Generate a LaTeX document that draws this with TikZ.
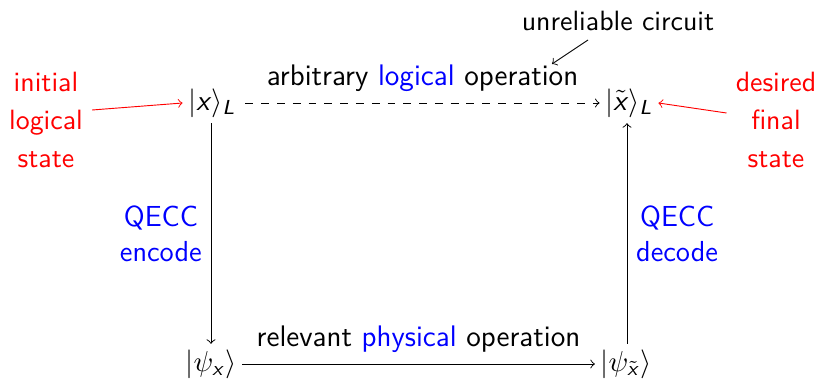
\documentclass[tikz,border=0pt]{standalone}
\usepackage{amsmath}
\newcommand\sfv[1]{\textsf{\textit{#1}}}
\begin{document}
\begin{tikzpicture}[x=0.38pt,y=-0.38pt,font=\sffamily\fontsize{11}{13.3}\selectfont,>=to,
  line width=0.35pt,
  obj/.style={inner sep=2pt},
  note/.style={text=red,align=center,font=\sffamily\fontsize{10.6}{14.4}\selectfont},
  edgelab/.style={font=\sffamily\fontsize{11.3}{13.6}\selectfont},
  lab/.style={align=center}]
\useasboundingbox (0,0) rectangle (822,381);
\node[obj] (xL) at (212,103) {$|\sfv{x}\rangle_{\sfv{L}}$};
\node[obj] (xtL) at (629,103) {$|\tilde{\sfv{x}}\rangle_{\sfv{L}}$};
\node[obj] (px) at (211,364) {$|\psi_{\sfv{x}}\rangle$};
\node[obj] (pxt) at (626,364) {$|\psi_{\tilde{\sfv{x}}}\rangle$};
\draw[->,dashed] (xL.east) ++(4,0) coordinate (xLe) (xLe) -- node[above=1pt,edgelab]{arbitrary \textcolor{blue}{logical} operation} (xtL);
\draw[->] (px) -- node[above=1pt,edgelab]{relevant \textcolor{blue}{physical} operation} (pxt);
\draw[->] (xL.south -| 211,0) -- node[left,lab,text=blue]{QECC\\encode} (px.north -| 211,0);
\draw[->] (pxt.north -| 627,0) -- node[right,lab,text=blue]{QECC\\decode} (xtL.south -| 627,0);
\node[note] (init) at (46,120) {initial\\logical\\state};
\node[note] (des) at (776,120) {desired\\final\\state};
\node[font=\sffamily\fontsize{10.6}{13}\selectfont] (unr) at (618,21) {unreliable circuit};
\coordinate (ua) at (552,64);
\coordinate (us) at (588,40);
\draw[red,->] (init.east |- 0,110) -- (xL.west);
\draw[red,->] (des.west |- 0,113) -- (xtL.east);
\draw[->] (us) -- (ua);
\end{tikzpicture}
\end{document}
